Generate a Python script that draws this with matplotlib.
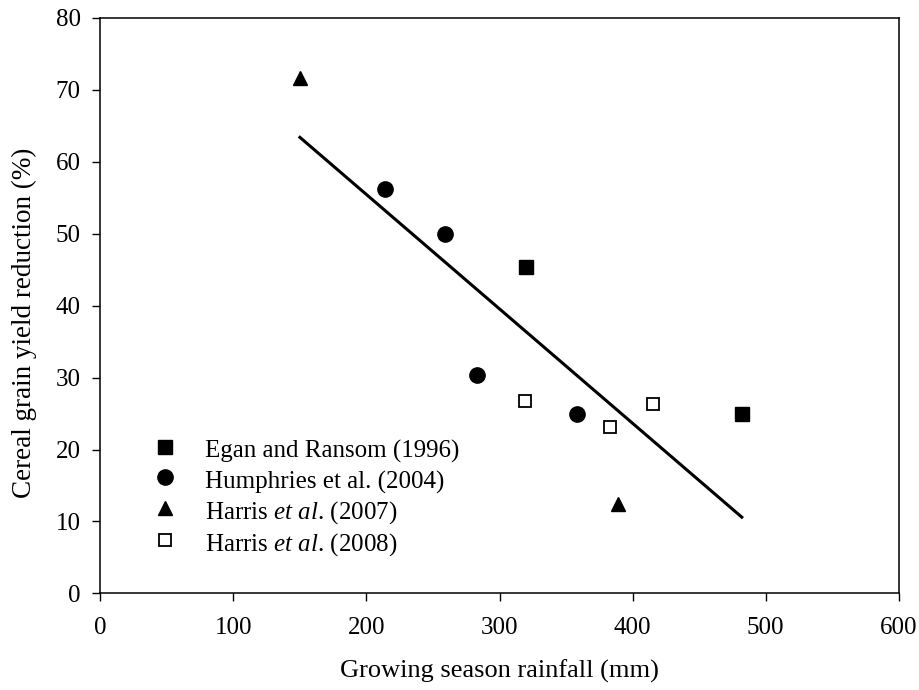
import matplotlib
matplotlib.use('Agg')
import matplotlib.pyplot as plt

plt.rcParams['font.family'] = ['Liberation Serif', 'DejaVu Serif']
plt.rcParams['mathtext.fontset'] = 'custom'
plt.rcParams['mathtext.rm'] = 'Liberation Serif'
plt.rcParams['mathtext.it'] = 'Liberation Serif:italic'

# data
egan_x = [320, 482]
egan_y = [45.4, 25.0]
humph_x = [214, 259, 283, 358]
humph_y = [56.2, 50.0, 30.3, 25.0]
harris07_x = [150, 389]
harris07_y = [71.6, 12.4]
harris08_x = [319, 383, 415]
harris08_y = [26.8, 23.1, 26.3]
fit_x = [150, 482]
fit_y = [63.4, 10.6]

labels = ['Egan and Ransom (1996)',
          'Humphries et al. (2004)',
          r'Harris $\mathit{et\ al}$. (2007)',
          r'Harris $\mathit{et\ al}$. (2008)']

fig = plt.figure(figsize=(9.2, 6.9), dpi=100)
ax = fig.add_axes([0.109, 0.14, 0.868, 0.834])

ax.plot(fit_x, fit_y, color='black', lw=2.2, zorder=2)
ax.plot(egan_x, egan_y, 's', color='black', ms=9.5, ls='none',
        label=labels[0], zorder=3)
ax.plot(humph_x, humph_y, 'o', color='black', ms=11, ls='none',
        label=labels[1], zorder=3)
ax.plot(harris07_x, harris07_y, '^', color='black', ms=10.5, ls='none',
        label=labels[2], zorder=3)
ax.plot(harris08_x, harris08_y, 's', mfc='white', mec='black', mew=1.3,
        ms=9, ls='none', label=labels[3], zorder=3)

ax.set_xlim(0, 600)
ax.set_ylim(0, 80)
ax.set_xticks(range(0, 601, 100))
ax.set_yticks(range(0, 81, 10))
ax.tick_params(direction='out', length=6, width=1, labelsize=18,
               top=False, right=False)
ax.tick_params(axis='x', pad=11)
ax.tick_params(axis='y', pad=8)
for s in ax.spines.values():
    s.set_linewidth(1.1)

ax.set_xlabel('Growing season rainfall (mm)', fontsize=19)
ax.set_ylabel('Cereal grain yield reduction (%)', fontsize=19.5)
ax.xaxis.set_label_coords(0.5, -0.115)
ax.yaxis.set_label_coords(-0.079, 0.47)

ax.legend(loc='lower left', bbox_to_anchor=(0.05, 0.04), frameon=False,
          fontsize=18, handletextpad=1.1, labelspacing=0.14, borderpad=0,
          handlelength=1.0, handleheight=1.2)

fig.savefig('out.png', dpi=100)
